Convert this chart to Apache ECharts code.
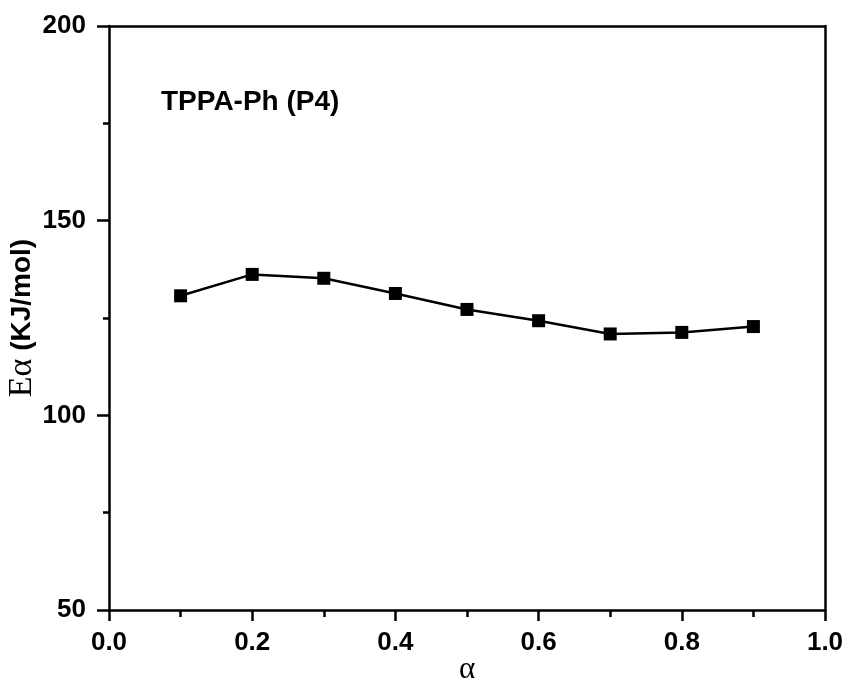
<!DOCTYPE html>
<html><head><meta charset="utf-8">
<script src="https://cdn.jsdelivr.net/npm/echarts@6/dist/echarts.min.js"></script>
<style>html,body{margin:0;padding:0;background:#fff}#c{width:848px;height:679px}</style>
</head><body><div id="c"></div>
<script>
const alphaValues = [0.1, 0.2, 0.3, 0.4, 0.5, 0.6, 0.7, 0.8, 0.9];
const energyValues = [130.7, 136.2, 135.2, 131.3, 127.2, 124.3, 120.9, 121.3, 122.8];
const seriesLabel = 'TPPA-Ph (P4)';

const chart = echarts.init(document.getElementById('c'));
const sans = 'Liberation Sans, Arial, sans-serif';
const serif = 'Liberation Serif, Times New Roman, serif';
chart.setOption({
  animation: false,
  backgroundColor: '#fff',
  grid: {left: 109, top: 26, width: 716, height: 584, show: false, containLabel: false, outerBoundsMode: 'none'},
  graphic: [{
    type: 'text', left: 161, top: 88,
    style: {text: seriesLabel, font: 'bold 28px ' + sans, fill: '#000'}
  }],
  xAxis: [{
    type: 'value', min: 0, max: 1, interval: 0.2,
    nameMoveOverlap: false,
    axisLine: {lineStyle: {color: '#000', width: 2.5}},
    axisTick: {inside: false, length: 11, lineStyle: {color: '#000', width: 2.5}},
    minorTick: {show: true, splitNumber: 2, length: 7, lineStyle: {color: '#000', width: 2.5}},
    splitLine: {show: false},
    axisLabel: {formatter: v => v.toFixed(1), color: '#000', fontFamily: sans, fontWeight: 'bold', fontSize: 26, margin: 20},
    name: 'α', nameLocation: 'middle', nameGap: 44,
    nameTextStyle: {fontFamily: serif, fontSize: 31, color: '#000'}
  }, {
    type: 'value', position: 'top', min: 0, max: 1,
    axisLine: {show: true, onZero: false, lineStyle: {color: '#000', width: 2.5}},
    axisTick: {show: false}, axisLabel: {show: false}, splitLine: {show: false}
  }],
  yAxis: [{
    type: 'value', min: 50, max: 200, interval: 50,
    nameMoveOverlap: false,
    axisLine: {show: true, lineStyle: {color: '#000', width: 2.5}},
    axisTick: {inside: false, length: 12, lineStyle: {color: '#000', width: 2.5}},
    minorTick: {show: true, splitNumber: 2, length: 6, lineStyle: {color: '#000', width: 2.5}},
    splitLine: {show: false},
    axisLabel: {color: '#000', fontFamily: sans, fontWeight: 'bold', fontSize: 26, margin: 23},
    name: '{a|Eα}{b| (KJ/mol)}', nameLocation: 'middle', nameGap: 70,
    nameTextStyle: {
      rich: {
        a: {fontFamily: serif, fontSize: 34, color: '#000'},
        b: {fontFamily: sans, fontWeight: 'bold', fontSize: 28, color: '#000'}
      }
    }
  }, {
    type: 'value', position: 'right', min: 50, max: 200,
    axisLine: {show: true, onZero: false, lineStyle: {color: '#000', width: 2.5}},
    axisTick: {show: false}, axisLabel: {show: false}, splitLine: {show: false}
  }],
  series: [{
    type: 'line',
    name: seriesLabel,
    data: alphaValues.map((a, i) => [a, energyValues[i]]),
    symbol: 'rect', symbolSize: 13,
    itemStyle: {color: '#000'},
    lineStyle: {color: '#000', width: 2.5}
  }]
});
</script></body></html>
